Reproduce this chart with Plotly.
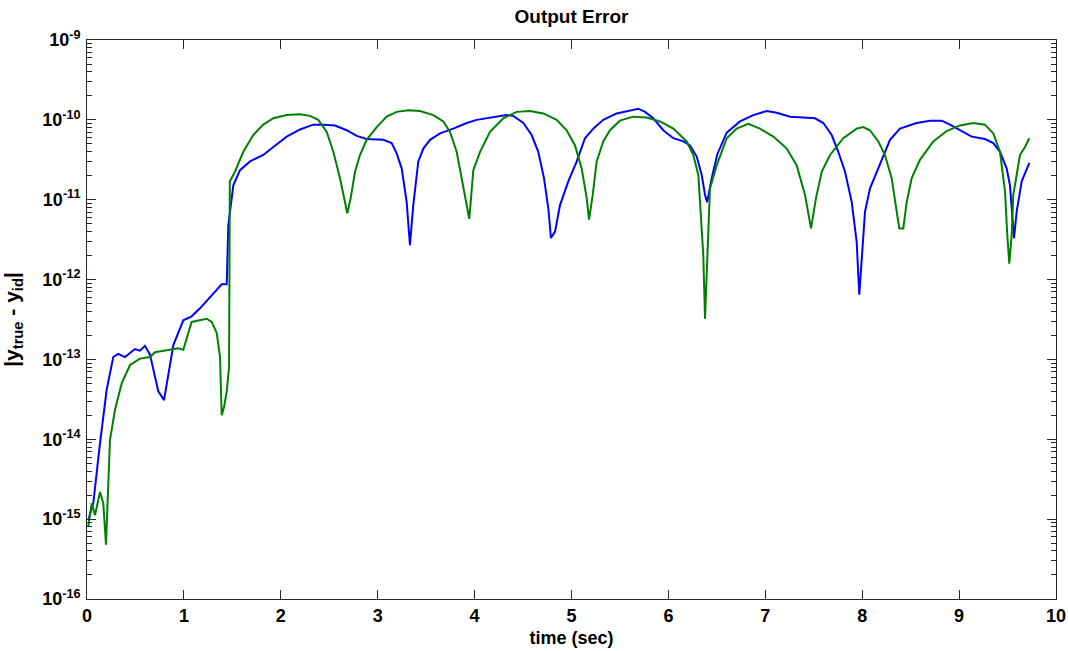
import plotly.graph_objects as go

# Output error traces: time (s) and log10 of |y_true - y_id|
t_blue = [0.013, 0.065, 0.134, 0.203, 0.271, 0.323, 0.392, 0.495, 0.547, 0.598,
          0.650, 0.736, 0.795, 0.891, 0.994, 1.080, 1.166, 1.390, 1.442, 1.452,
          1.458, 1.510, 1.579, 1.682, 1.819, 1.923, 2.061, 2.198, 2.335, 2.439,
          2.559, 2.680, 2.783, 2.886, 3.058, 3.144, 3.196, 3.248, 3.299, 3.333,
          3.367, 3.419, 3.471, 3.540, 3.643, 3.780, 3.918, 4.022, 4.125, 4.331,
          4.399, 4.503, 4.589, 4.657, 4.716, 4.761, 4.788, 4.830, 4.881, 4.967,
          5.054, 5.139, 5.225, 5.328, 5.466, 5.604, 5.689, 5.759, 5.844, 5.947,
          6.051, 6.154, 6.223, 6.292, 6.344, 6.378, 6.400, 6.447, 6.505, 6.602,
          6.739, 6.876, 7.014, 7.118, 7.255, 7.392, 7.513, 7.599, 7.685, 7.753,
          7.823, 7.892, 7.943, 7.970, 7.995, 8.029, 8.080, 8.150, 8.218, 8.287,
          8.390, 8.562, 8.700, 8.820, 8.906, 9.009, 9.130, 9.267, 9.353, 9.422,
          9.491, 9.525, 9.549, 9.567, 9.594, 9.646, 9.680, 9.725]
log_err_blue = [-15.01, -14.80, -14.05, -13.38, -12.97, -12.93, -12.97, -12.87, -12.89, -12.83,
                -12.94, -13.40, -13.51, -12.82, -12.51, -12.46, -12.36, -12.06, -12.06, -11.60,
                -11.32, -10.82, -10.63, -10.52, -10.44, -10.34, -10.21, -10.12, -10.06, -10.06,
                -10.07, -10.13, -10.20, -10.24, -10.25, -10.29, -10.42, -10.61, -11.03, -11.57,
                -11.07, -10.52, -10.36, -10.25, -10.17, -10.11, -10.04, -10.00, -9.98, -9.94,
                -9.95, -10.04, -10.19, -10.40, -10.73, -11.11, -11.48, -11.40, -11.07, -10.77,
                -10.52, -10.23, -10.11, -10.00, -9.92, -9.88, -9.86, -9.90, -9.98, -10.13,
                -10.23, -10.27, -10.32, -10.46, -10.69, -10.94, -11.03, -10.73, -10.43, -10.16,
                -10.02, -9.94, -9.89, -9.91, -9.96, -9.97, -9.98, -10.04, -10.19, -10.40,
                -10.65, -11.03, -11.53, -12.19, -11.73, -11.15, -10.86, -10.65, -10.44, -10.25,
                -10.11, -10.04, -10.01, -10.01, -10.06, -10.13, -10.21, -10.24, -10.29, -10.40,
                -10.61, -10.82, -11.28, -11.48, -11.15, -10.77, -10.67, -10.54]

t_green = [0.013, 0.049, 0.083, 0.134, 0.168, 0.196, 0.237, 0.289, 0.358, 0.444,
           0.547, 0.650, 0.702, 0.857, 0.942, 0.994, 1.080, 1.235, 1.287, 1.339,
           1.373, 1.390, 1.414, 1.442, 1.466, 1.474, 1.527, 1.613, 1.716, 1.819,
           1.923, 2.061, 2.198, 2.301, 2.387, 2.474, 2.542, 2.611, 2.663, 2.686,
           2.721, 2.766, 2.817, 2.886, 2.990, 3.093, 3.196, 3.316, 3.437, 3.574,
           3.677, 3.746, 3.815, 3.883, 3.945, 3.987, 4.056, 4.159, 4.296, 4.434,
           4.572, 4.709, 4.847, 4.950, 5.036, 5.105, 5.157, 5.181, 5.219, 5.260,
           5.328, 5.397, 5.500, 5.638, 5.776, 5.913, 6.051, 6.189, 6.257, 6.309,
           6.344, 6.360, 6.378, 6.401, 6.429, 6.498, 6.602, 6.705, 6.825, 6.945,
           7.083, 7.221, 7.324, 7.410, 7.472, 7.523, 7.582, 7.668, 7.805, 7.943,
           8.011, 8.080, 8.166, 8.235, 8.304, 8.356, 8.383, 8.424, 8.459, 8.511,
           8.596, 8.734, 8.872, 9.009, 9.147, 9.267, 9.353, 9.422, 9.474, 9.497,
           9.518, 9.543, 9.559, 9.594, 9.628, 9.680, 9.725]
log_err_green = [-15.09, -14.80, -14.95, -14.66, -14.80, -15.32, -14.01, -13.63, -13.30, -13.07,
                 -12.99, -12.97, -12.91, -12.88, -12.86, -12.88, -12.53, -12.49, -12.53, -12.67,
                 -12.97, -13.70, -13.60, -13.40, -13.10, -10.77, -10.65, -10.40, -10.19, -10.06,
                 -9.98, -9.94, -9.93, -9.95, -10.00, -10.15, -10.40, -10.73, -11.03, -11.17,
                 -10.98, -10.65, -10.44, -10.25, -10.09, -9.96, -9.90, -9.88, -9.89, -9.94,
                 -10.02, -10.15, -10.40, -10.82, -11.24, -10.63, -10.40, -10.15, -9.98, -9.90,
                 -9.89, -9.92, -10.00, -10.13, -10.32, -10.61, -10.98, -11.25, -10.94, -10.52,
                 -10.27, -10.13, -10.01, -9.96, -9.97, -10.02, -10.11, -10.27, -10.44, -10.69,
                 -11.36, -11.69, -12.49, -11.69, -10.86, -10.57, -10.23, -10.11, -10.05, -10.11,
                 -10.21, -10.36, -10.57, -10.94, -11.36, -10.98, -10.65, -10.44, -10.23, -10.11,
                 -10.09, -10.13, -10.27, -10.44, -10.73, -11.15, -11.36, -11.36, -11.03, -10.73,
                 -10.50, -10.27, -10.14, -10.07, -10.04, -10.06, -10.17, -10.40, -10.90, -11.44,
                 -11.80, -11.44, -10.94, -10.69, -10.44, -10.34, -10.23]

y_tick_exponents = [-16, -15, -14, -13, -12, -11, -10, -9]
x_ticks = [0, 1, 2, 3, 4, 5, 6, 7, 8, 9, 10]

err_blue = [10 ** v for v in log_err_blue]
err_green = [10 ** v for v in log_err_green]

fig = go.Figure()
fig.add_trace(go.Scatter(x=t_blue, y=err_blue, mode="lines",
                         line=dict(color="#0000ff", width=2), showlegend=False))
fig.add_trace(go.Scatter(x=t_green, y=err_green, mode="lines",
                         line=dict(color="#008000", width=2), showlegend=False))

font_family = "Liberation Sans, Arial, sans-serif"
axis_color = "#262626"

fig.update_layout(
    width=1068, height=651,
    margin=dict(l=87, r=12, t=40, b=52),
    paper_bgcolor="white", plot_bgcolor="white",
    title=dict(text="<b>Output Error</b>", x=(87 + 1056) / 2 / 1068, xanchor="center",
               y=1 - 16 / 651, yanchor="middle",
               font=dict(family=font_family, size=19, color="black")),
    font=dict(family=font_family, color="black"),
)

fig.update_xaxes(
    range=[0, 10], tickvals=x_ticks, ticktext=[f"<b>{v}</b>" for v in x_ticks],
    ticks="inside", ticklen=9, tickwidth=1, tickcolor=axis_color,
    showline=True, linecolor=axis_color, linewidth=1, mirror="ticks",
    showgrid=False, zeroline=False, automargin=False,
    tickfont=dict(family=font_family, size=18, color="black"),
    title=dict(text="<b>time (sec)</b>", standoff=6,
               font=dict(family=font_family, size=18, color="black")),
)

fig.update_yaxes(
    type="log", range=[-16, -9],
    tickvals=[10 ** e for e in y_tick_exponents],
    ticktext=[f"<b>10<sup>{e}</sup></b>" for e in y_tick_exponents],
    ticks="inside", ticklen=9, tickwidth=1, tickcolor=axis_color,
    minor=dict(ticks="inside", ticklen=5, tickcolor=axis_color, showgrid=False,
               dtick="D1"),
    showline=True, linecolor=axis_color, linewidth=1, mirror="ticks",
    showgrid=False, zeroline=False, automargin=False,
    tickfont=dict(family=font_family, size=18, color="black"),
    ticklabelstandoff=2,
    title=dict(text="<b>|y<sub>true</sub> - y<sub>id</sub>|</b>", standoff=17,
               font=dict(family=font_family, size=21, color="black")),
)

fig.write_html("out.html")
